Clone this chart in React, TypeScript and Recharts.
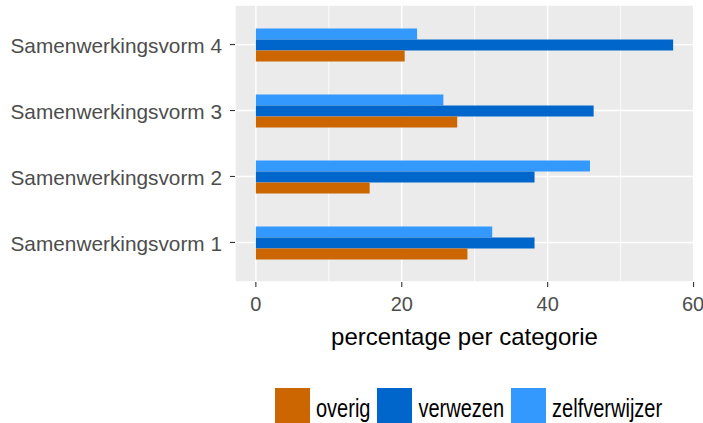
import React from 'react';
import { BarChart, Bar, XAxis, YAxis, CartesianGrid, Legend } from 'recharts';

// categories top to bottom, as in the picture
const categories = ['Samenwerkingsvorm 4', 'Samenwerkingsvorm 3', 'Samenwerkingsvorm 2', 'Samenwerkingsvorm 1'];
const overig = [20.4, 27.6, 15.6, 29.0];
const verwezen = [57.2, 46.3, 38.2, 38.2];
const zelfverwijzer = [22.1, 25.7, 45.8, 32.4];

const xTicks = [0, 20, 40, 60];
const minorTicks = [10, 30, 50];

// bar order inside a group (top first)
const series = [
  { key: 'zelfverwijzer', color: '#3399FF' },
  { key: 'verwezen', color: '#0066CC' },
  { key: 'overig', color: '#CC6600' },
];
const legendOrder = ['overig', 'verwezen', 'zelfverwijzer'];

const data = categories.map((name, i) => ({
  name,
  overig: overig[i],
  verwezen: verwezen[i],
  zelfverwijzer: zelfverwijzer[i],
}));

const font = '"Liberation Sans", Arial, sans-serif';

function LegendBox() {
  return (
    <div style={{ display: 'flex', alignItems: 'center', height: 36, paddingLeft: 275, fontFamily: font, fontSize: 20, color: '#000' }}>
      {legendOrder.map((key) => {
        const s = series.find((x) => x.key === key)!;
        return (
          <div key={key} style={{ display: 'flex', alignItems: 'center', marginRight: 7 }}>
            <span style={{ display: 'inline-block', width: 35, height: 35, background: s.color }} />
            <span style={{ display: 'inline-block', marginLeft: 6, transform: 'translateY(3px) scaleY(1.25)' }}>{key}</span>
          </div>
        );
      })}
    </div>
  );
}

export default function App() {
  return (
    <div style={{ position: 'absolute', left: 0, top: 0, width: 703, height: 423, background: '#fff' }}>
      <BarChart
        width={703}
        height={423}
        data={data}
        layout="vertical"
        margin={{ top: 5, right: 9, left: 0, bottom: 0 }}
        barCategoryGap={17}
        barGap={0}
      >
        <CartesianGrid fill="#EBEBEB" stroke="#FFFFFF" strokeWidth={0.8} horizontal={false} verticalValues={minorTicks} />
        <CartesianGrid stroke="#FFFFFF" strokeWidth={1.4} />
        <XAxis
          type="number"
          domain={[-2.86, 60.06]}
          ticks={xTicks}
          allowDataOverflow
          height={105}
          axisLine={false}
          tickSize={5}
          tickMargin={10}
          tickLine={{ stroke: '#333333', strokeWidth: 1.1 }}
          tick={{ fill: '#4D4D4D', fontSize: 20, fontFamily: font }}
          label={{ value: 'percentage per categorie', position: 'insideTop', offset: 46, fill: '#000', fontSize: 24, fontFamily: font }}
        />
        <YAxis
          type="category"
          dataKey="name"
          width={235}
          padding={{ top: 6.6, bottom: 6.6 }}
          interval={0}
          axisLine={false}
          tickSize={5}
          tickMargin={8}
          tickLine={{ stroke: '#333333', strokeWidth: 1.1 }}
          tick={{ fill: '#4D4D4D', fontSize: 20.8, fontFamily: font, dy: 1.5 }}
        />
        {series.map((s) => (
          <Bar key={s.key} dataKey={s.key} fill={s.color} isAnimationActive={false} />
        ))}
        <Legend verticalAlign="bottom" content={LegendBox} wrapperStyle={{ left: 0, bottom: 0, width: 703, height: 36 }} />
      </BarChart>
    </div>
  );
}
